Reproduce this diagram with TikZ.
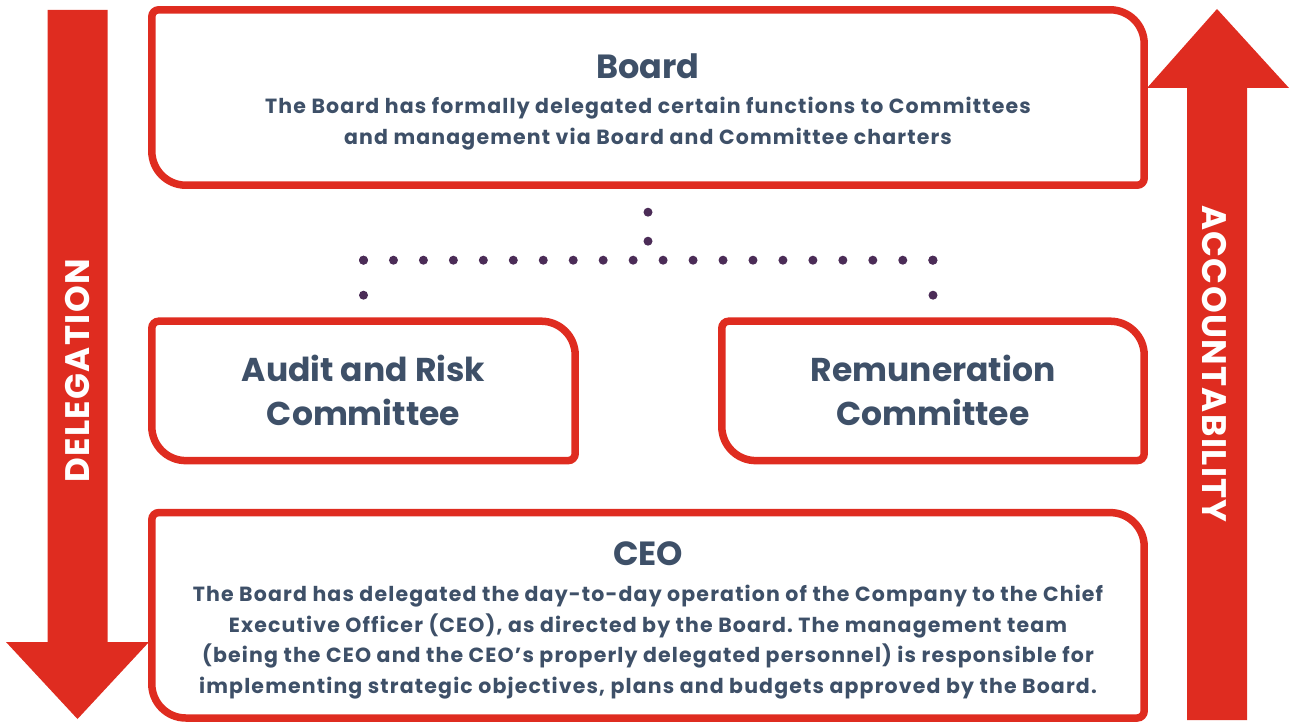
\documentclass[tikz,border=0pt]{standalone}
\usepackage{fontspec}
\setmainfont{Poppins}
\newfontfamily\widefont{Poppins}[LetterSpace=5.6]
\newfontfamily\capsfont{Poppins}[LetterSpace=4]
\frenchspacing
\usetikzlibrary{positioning, calc}
\definecolor{framered}{HTML}{DF2C20}
\definecolor{textslate}{HTML}{3E5068}
\definecolor{dotpurple}{HTML}{4B2C57}
\newcommand\boxhead[1]{{\normalfont\fontsize{33.5}{40}\selectfont\bfseries\rule{0pt}{34pt}#1}}
\newcommand\panelframe[1]{%
  \draw[frame] ([xshift=7pt]#1.north west) -- ([xshift=-34pt]#1.north east)
    arc[start angle=90, end angle=0, radius=34pt] -- ([yshift=7pt]#1.south east)
    arc[start angle=0, end angle=-90, radius=7pt] -- ([xshift=34pt]#1.south west)
    arc[start angle=270, end angle=180, radius=34pt] -- ([yshift=-7pt]#1.north west)
    arc[start angle=180, end angle=90, radius=7pt] -- cycle;}

\begin{document}
\begin{tikzpicture}[
		x=1pt, y=1pt,
		panel/.style={rectangle, inner sep=0pt, align=center, text=textslate},
		frame/.style={draw=framered, line width=7.5pt},
		body/.style={font=\widefont\fontsize{20.5}{#1}\selectfont\bfseries},
		body/.default=30.5,
		title/.style={font=\fontsize{33}{44}\selectfont\bfseries},
		dotline/.style={draw=dotpurple, line width=9pt, line cap=round, dash pattern=on 0pt off #1},
		arrowlabel/.style={text=white, font=\capsfont\fontsize{34}{40}\selectfont\bfseries}
		]
		\useasboundingbox (0,0) rectangle (1292,-722);

		% delegation and accountability arrows
		\fill[framered] (47.5,-10) -- (107.5,-10) -- (107.5,-642) -- (149,-642)
			-- (77.5,-719) -- (6,-642) -- (47.5,-642) -- cycle;
		\fill[framered] (1187,-720) -- (1187,-88) -- (1147,-88) -- (1217,-9)
			-- (1289,-88) -- (1247,-88) -- (1247,-720) -- cycle;
		\node[arrowlabel, rotate=90] (deleg) at (78,-371) {DELEGATION};
		\node[arrowlabel, rotate=-90] (account) at (1214,-364) {ACCOUNTABILITY};

		\node[panel, body=31, minimum width=992pt, minimum height=175pt] (board) at (648,-97.5)
			{\boxhead{Board}\\[4pt]
			The Board has formally delegated certain functions to Committees\\
			and management via Board and Committee charters};
		\node[panel, title, minimum width=423pt, minimum height=139pt, anchor=north west]
			(audit) at ([yshift=-136pt]board.south west) {Audit and Risk\\Committee};
		\node[panel, title, minimum width=422pt, minimum height=139pt, anchor=north east]
			(remun) at ([yshift=-136pt]board.south east) {Remuneration\\Committee};
		\node[panel, body, minimum width=992pt, minimum height=205pt, anchor=north west]
			(ceo) at ([yshift=-52pt]audit.south west)
			{\boxhead{CEO}\\[6pt]
			The Board has delegated the day-to-day operation of the Company to the Chief\\
			Executive Officer (CEO), as directed by the Board. The management team\\
			(being the CEO and the CEO’s properly delegated personnel) is responsible for\\
			implementing strategic objectives, plans and budgets approved by the Board.};

		\panelframe{board}
		\panelframe{audit}
		\panelframe{remun}
		\panelframe{ceo}

		\draw[dotline=29pt] ([yshift=-27pt]board.south) -- ([yshift=-56pt]board.south);
		\draw[dotline=29.96pt] ([yshift=61pt]audit.north) -- ([yshift=61pt]remun.north);
		\draw[dotline=35pt] ([yshift=26pt]audit.north) -- ([yshift=61pt]audit.north);
		\draw[dotline=35pt] ([yshift=26pt]remun.north) -- ([yshift=61pt]remun.north);
	\end{tikzpicture}
\end{document}
